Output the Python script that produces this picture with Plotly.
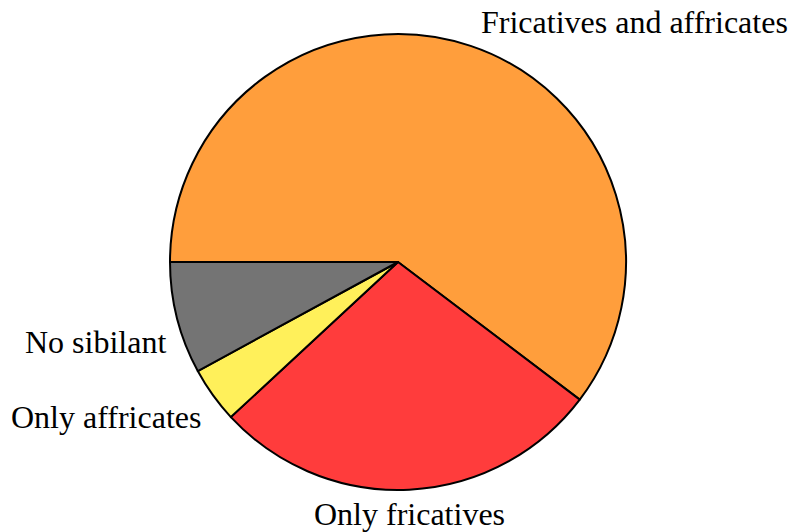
import plotly.graph_objects as go

# Data (language counts)
labels = ["Fricatives and affricates", "Only fricatives", "Only affricates", "No sibilant"]
values = [76, 35, 5, 10]
colors = ["#FF9E3C", "#FF3C3C", "#FFF05A", "#747474"]

# label placement (paper coords) and anchors
label_x = [0.678, 0.526, 0.072, -0.005]
label_y = [1.026, -0.053, 0.160, 0.325]
label_anchor = ["left", "center", "right", "right"]

fig = go.Figure(go.Pie(
    labels=labels,
    values=values,
    sort=False,
    direction="clockwise",
    rotation=-90,
    textinfo="none",
    hoverinfo="label+value",
    marker=dict(colors=colors, line=dict(color="black", width=2)),
    showlegend=False,
))

for lab, x, y, a in zip(labels, label_x, label_y, label_anchor):
    fig.add_annotation(text=lab, x=x, y=y, xref="paper", yref="paper",
                       xanchor=a, yanchor="middle", showarrow=False,
                       font=dict(family="Liberation Serif", size=32, color="black"))

fig.update_layout(
    width=792, height=532,
    margin=dict(l=170, r=166, t=34, b=42),
    paper_bgcolor="white", plot_bgcolor="white",
)
fig.write_html("out.html",
               config={"displayModeBar": False},
               post_script="document.body.style.margin='0';document.body.style.overflow='hidden';")
